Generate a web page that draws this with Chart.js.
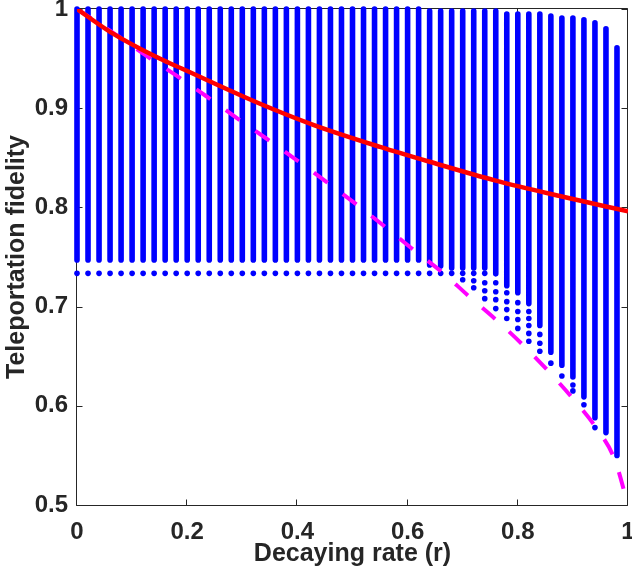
<!DOCTYPE html>
<html><head><meta charset="utf-8">
<script src="https://cdn.jsdelivr.net/npm/chart.js@4/dist/chart.umd.min.js"></script>
<style>html,body{margin:0;padding:0;background:#fff}#wrap{width:632px;height:580px;position:relative}</style>
</head><body><div id="wrap"><canvas id="c"></canvas></div>
<script>
// column positions (decaying rate r)
const colR = [0,0.02,0.04,0.06,0.08,0.10,0.12,0.14,0.16,0.18,0.20,0.22,0.24,0.26,0.28,0.30,0.32,0.34,0.36,0.38,0.40,0.42,0.44,0.46,0.48,0.50,0.52,0.54,0.56,0.58,0.60,0.62,0.64,0.66,0.68,0.70,0.72,0.74,0.76,0.78,0.80,0.82,0.84,0.86,0.88,0.90,0.92,0.94,0.96,0.98];
// top and bottom of the dense part of each column
const colTop = [1,1,1,1,1,1,1,1,1,1,1,1,1,1,1,1,1,1,1,1,1,1,1,1,1,1,1,1,1,1,1,1,0.998,0.998,0.998,0.998,0.998,0.998,0.998,0.995,0.995,0.995,0.995,0.993,0.991,0.991,0.989,0.986,0.980,0.961];
const colBottom = [0.747,0.747,0.747,0.747,0.747,0.747,0.747,0.747,0.747,0.747,0.747,0.747,0.747,0.747,0.747,0.747,0.747,0.747,0.747,0.747,0.747,0.747,0.747,0.747,0.747,0.747,0.747,0.747,0.747,0.747,0.747,0.747,0.742,0.741,0.739,0.739,0.739,0.739,0.733,0.721,0.714,0.703,0.681,0.654,0.641,0.629,0.609,0.588,0.573,0.550];
// isolated points below the dense part
const dotR = [0,0.02,0.04,0.06,0.08,0.10,0.12,0.14,0.16,0.18,0.20,0.22,0.24,0.26,0.28,0.30,0.32,0.34,0.36,0.38,0.40,0.42,0.44,0.46,0.48,0.50,0.52,0.54,0.56,0.58,0.60,0.62,0.64,0.66,0.68,0.70,0.72,0.74,
  0.70,0.72,0.72,0.74,0.74,0.74,0.76,0.76,0.76,0.76,0.78,0.78,0.78,0.78,0.80,0.80,0.80,0.80,0.82,0.82,0.82,0.82,0.82,0.84,0.84,0.84,0.86,0.88,0.90,0.90,0.92,0.94];
const dotF = [0.7335,0.7335,0.7335,0.7335,0.7335,0.7335,0.7335,0.7335,0.7335,0.7335,0.7335,0.7335,0.7335,0.7335,0.7335,0.7335,0.7335,0.7335,0.7335,0.7335,0.7335,0.7335,0.7335,0.7335,0.7335,0.7335,0.7335,0.7335,0.7335,0.7335,0.7335,0.7335,0.7335,0.7335,0.7335,0.7335,0.7335,0.7335,
  0.727,0.726,0.719,0.724,0.716,0.708,0.724,0.715,0.707,0.698,0.714,0.705,0.697,0.688,0.704,0.695,0.687,0.678,0.695,0.688,0.681,0.673,0.665,0.672,0.663,0.655,0.643,0.630,0.621,0.615,0.601,0.578];
// red solid curve
const redR = [0,0.06,0.15,0.19,0.33,0.43,0.55,0.64,0.76,0.88,1.0];
const redF = [1.0,0.977,0.950,0.940,0.905,0.883,0.861,0.846,0.827,0.811,0.796];
// magenta dashed bound
const bndR = [0,0.067,0.124,0.18,0.234,0.289,0.343,0.398,0.452,0.506,0.558,0.609,0.662,0.712,0.762,0.81,0.857,0.902,0.942,0.976,1.0];
const bndF = [1.0,0.9755,0.9535,0.933,0.9123,0.8905,0.8697,0.848,0.826,0.8035,0.781,0.758,0.7350,0.710,0.686,0.661,0.634,0.606,0.578,0.5456,0.50];
// ticks
const xTicks = [0,0.2,0.4,0.6,0.8,1];
const xTickLabels = ['0','0.2','0.4','0.6','0.8','1'];
const yTicks = [0.5,0.6,0.7,0.8,0.9,1];
const yTickLabels = ['0.5','0.6','0.7','0.8','0.9','1'];

const FONT = "'Liberation Sans', Arial, Helvetica, sans-serif";
const TXT = '#262626';

const colData = [];
colR.forEach((r,i)=>{ colData.push({x:r,y:colTop[i]}); colData.push({x:r,y:colBottom[i]}); colData.push({x:r,y:null}); });
const dotData = dotR.map((r,i)=>({x:r,y:dotF[i]}));
const redData = redR.map((r,i)=>({x:r,y:redF[i]}));
const bndData = bndR.map((r,i)=>({x:r,y:bndF[i]}));

const frame = {
  id:'frame',
  beforeDatasetsDraw(chart){
    const {ctx, chartArea:a, scales:{x,y}} = chart;
    ctx.save();
    ctx.strokeStyle = TXT; ctx.lineWidth = 1;
    const L = a.left-0.5, R = a.right-0.5, T = a.top-0.5, B = a.bottom+0.5;
    ctx.beginPath();
    ctx.rect(L, T, R-L, B-T);
    xTicks.forEach(v=>{ const px = Math.round(x.getPixelForValue(v))-0.5; ctx.moveTo(px,B); ctx.lineTo(px,B-6); ctx.moveTo(px,T); ctx.lineTo(px,T+6); });
    yTicks.forEach(v=>{ const py = Math.round(y.getPixelForValue(v))+0.5; ctx.moveTo(L,py); ctx.lineTo(L+6,py); ctx.moveTo(R,py); ctx.lineTo(R-6,py); });
    ctx.stroke();
    ctx.restore();
  }
};

new Chart(document.getElementById('c'), {
  type:'line',
  data:{datasets:[
    {label:'red', data:redData, borderColor:'#ff0000', borderWidth:4.5, pointRadius:0, cubicInterpolationMode:'monotone', order:0},
    {label:'bound', data:bndData, borderColor:'#ff00ff', borderWidth:4, borderDash:[17,19], pointRadius:0, cubicInterpolationMode:'monotone', order:1},
    {label:'dots', type:'scatter', data:dotData, backgroundColor:'#0000ff', borderWidth:0, pointRadius:2.8, clip:false, order:2},
    {label:'cols', data:colData, borderColor:'#0000ff', borderWidth:5.6, borderCapStyle:'round', pointRadius:0, spanGaps:false, tension:0, clip:false, order:3}
  ]},
  options:{
    responsive:true, maintainAspectRatio:false, animation:false, devicePixelRatio:1,
    layout:{padding:0},
    plugins:{legend:{display:false}, tooltip:{enabled:false}},
    scales:{
      x:{type:'linear', min:0, max:1, position:'bottom',
        grid:{display:false, drawTicks:false}, border:{display:false},
        afterBuildTicks:s=>{ s.ticks = xTicks.map(v=>({value:v})); },
        afterFit:s=>{ s.height = 75; s.paddingLeft = 0; s.paddingRight = 4; },
        ticks:{autoSkip:false, maxRotation:0, padding:13, color:TXT, font:{family:FONT, size:24, weight:'bold'}, callback:(v,i)=>xTickLabels[i]},
        title:{display:true, text:'Decaying rate (r)', color:TXT, font:{family:FONT, size:25, weight:'bold'}, padding:{top:0,bottom:11}}
      },
      y:{type:'linear', min:0.5, max:1,
        grid:{display:false, drawTicks:false}, border:{display:false},
        afterBuildTicks:s=>{ s.ticks = yTicks.map(v=>({value:v})); },
        afterFit:s=>{ s.width = 77; s.paddingTop = 9; s.paddingBottom = 0; },
        ticks:{autoSkip:false, padding:9, color:TXT, font:{family:FONT, size:24, weight:'bold'}, callback:(v,i)=>yTickLabels[i]},
        title:{display:true, text:'Teleportation fidelity', color:TXT, font:{family:FONT, size:25, weight:'bold'}, padding:{top:2,bottom:0}}
      }
    }
  },
  plugins:[frame]
});
</script></body></html>
